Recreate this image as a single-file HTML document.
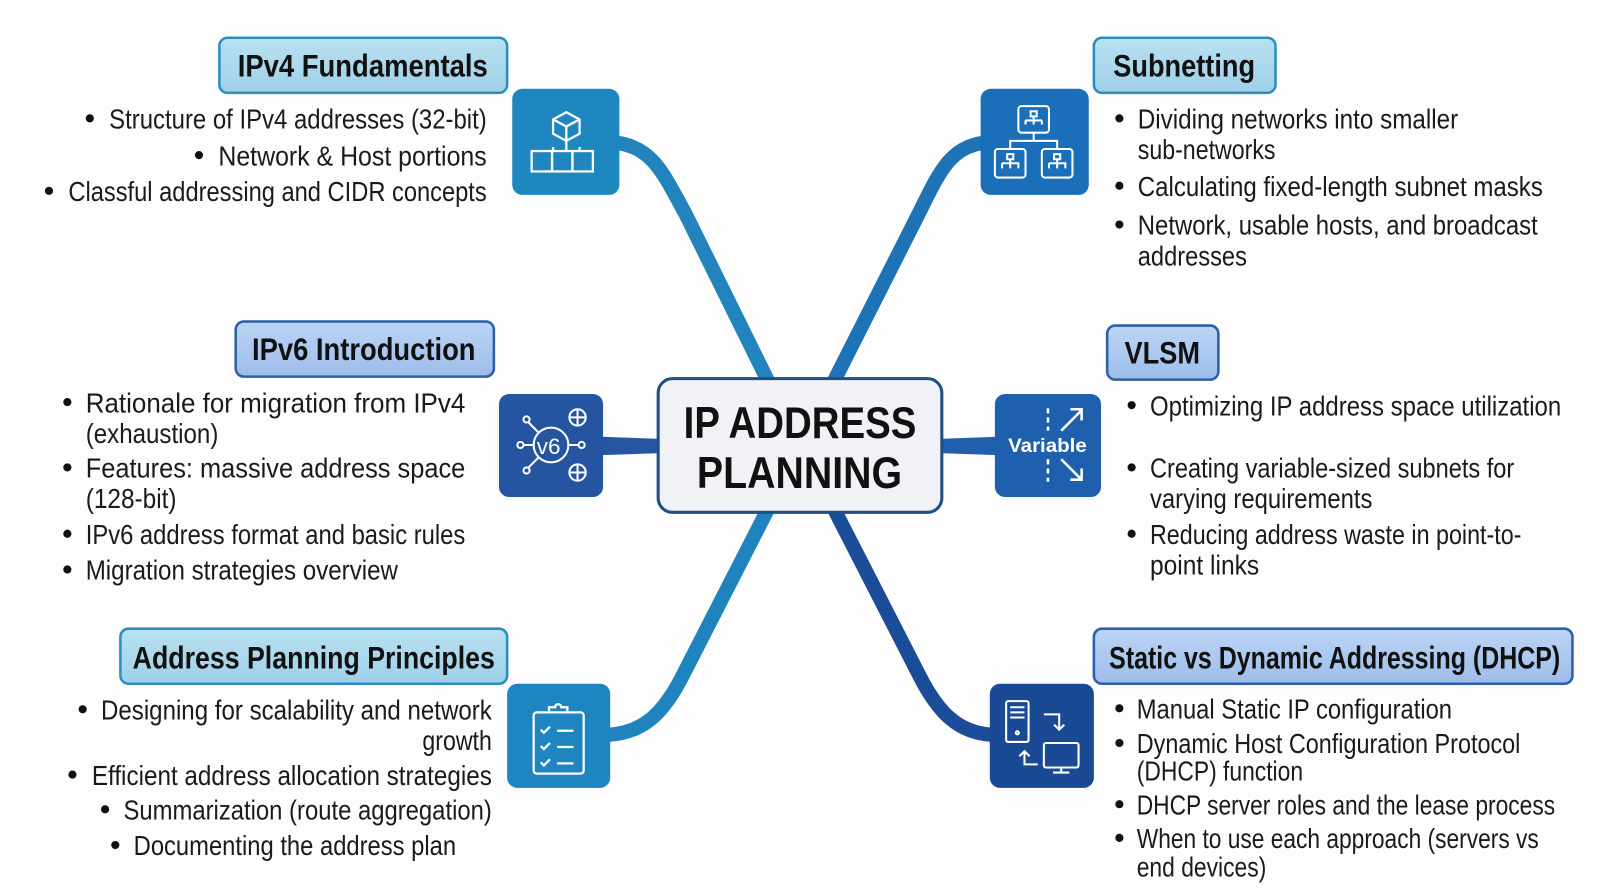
<!DOCTYPE html>
<html><head><meta charset="utf-8"><style>
html,body{margin:0;padding:0;background:#fff;}
svg{display:block;}
text{font-family:"Liberation Sans",sans-serif;}
.b{font-size:27px;fill:#1a1a1a;}
.h{font-size:31px;font-weight:bold;fill:#111;}
</style></head><body>
<svg width="1600" height="893" viewBox="0 0 1568 875" preserveAspectRatio="none" xmlns="http://www.w3.org/2000/svg">
<defs>
<linearGradient id="gc" x1="0" y1="0" x2="0" y2="1"><stop offset="0" stop-color="#b9e1f1"/><stop offset="1" stop-color="#9fd0e8"/></linearGradient>
<linearGradient id="gb" x1="0" y1="0" x2="0" y2="1"><stop offset="0" stop-color="#bcd5f5"/><stop offset="1" stop-color="#9dbdea"/></linearGradient>
</defs>
<rect width="1568" height="875" fill="#fdfdfd"/>
<g fill="none" stroke-linecap="round">
<path d="M605 140 C640 145 650 170 672 210 L752 372" stroke="#2283bd" stroke-width="14"/>
<path d="M963 140 C930 145 920 170 900 210 L818 372" stroke="#1e72b6" stroke-width="14"/>
<path d="M752 500 L670 660 C650 700 630 718 596 720" stroke="#1f83bd" stroke-width="14"/>
<path d="M818 500 L900 660 C920 700 940 718 972 720" stroke="#1b4c98" stroke-width="14"/>
</g>
<polygon points="590,428 648,430 648,444 590,446" fill="#2556a0"/>
<polygon points="920,430 978,428 978,446 920,444" fill="#1f5fae"/>
<rect x="645" y="371" width="278" height="131" rx="14" fill="#f0f2f5" stroke="#1f4f80" stroke-width="3"/>
<text x="670" y="429" font-size="44" font-weight="bold" fill="#111" textLength="228" lengthAdjust="spacingAndGlyphs">IP ADDRESS</text>
<text x="683" y="478" font-size="44" font-weight="bold" fill="#111" textLength="201" lengthAdjust="spacingAndGlyphs">PLANNING</text>
<rect x="215" y="37" width="282" height="54" rx="8" fill="url(#gc)" stroke="#2a8fc0" stroke-width="2.5"/>
<text class="h" x="233" y="75" textLength="245" lengthAdjust="spacingAndGlyphs">IPv4 Fundamentals</text>
<rect x="1072" y="37" width="178" height="54" rx="8" fill="url(#gc)" stroke="#2a8fc0" stroke-width="2.5"/>
<text class="h" x="1091" y="75" textLength="139" lengthAdjust="spacingAndGlyphs">Subnetting</text>
<rect x="231" y="315" width="253" height="54" rx="8" fill="url(#gb)" stroke="#2e5fa8" stroke-width="2.5"/>
<text class="h" x="247" y="353" textLength="219" lengthAdjust="spacingAndGlyphs">IPv6 Introduction</text>
<rect x="1085" y="319" width="109" height="53" rx="8" fill="url(#gb)" stroke="#2e5fa8" stroke-width="2.5"/>
<text class="h" x="1102" y="356" textLength="74" lengthAdjust="spacingAndGlyphs">VLSM</text>
<rect x="118" y="616" width="379" height="54" rx="8" fill="url(#gc)" stroke="#2a8fc0" stroke-width="2.5"/>
<text class="h" x="130" y="655" textLength="355" lengthAdjust="spacingAndGlyphs">Address Planning Principles</text>
<rect x="1072" y="616" width="469" height="54" rx="8" fill="url(#gb)" stroke="#2e5fa8" stroke-width="2.5"/>
<text class="h" x="1087" y="655" textLength="442" lengthAdjust="spacingAndGlyphs">Static vs Dynamic Addressing (DHCP)</text>
<rect x="502" y="87" width="105" height="104" rx="10" fill="#1f87c0"/>
<g stroke="#fff" stroke-width="2.2" fill="none">
<path d="M555 110 l13 7 v14 l-13 7 l-13 -7 v-14 z M542 117 l13 7 l13 -7 M555 124 v14"/>
<path d="M555 138 v10 M542 148 v-4 M568 148 v-4"/>
<rect x="521" y="148" width="20" height="20"/><rect x="541" y="148" width="20" height="20"/><rect x="561" y="148" width="20" height="20"/>
</g>
<rect x="961" y="87" width="106" height="104" rx="10" fill="#1a6fb8"/>
<g stroke="#fff" stroke-width="2" fill="none">
<rect x="998" y="104" width="30" height="26" rx="3"/><rect x="975" y="146" width="30" height="28" rx="3"/><rect x="1021" y="146" width="30" height="28" rx="3"/>
<path d="M1013 130 v8 M990 146 v-8 h46 v8"/>
<path d="M1010 109 h6 v5 h-6z M1013 114 v4 M1005 118 h16 M1005 118 v4 M1013 118 v4 M1021 118 v4"/>
<path d="M987 151 h6 v5 h-6z M990 156 v4 M982 160 h16 v5 M990 160 v5 M982 160 v5"/>
<path d="M1033 151 h6 v5 h-6z M1036 156 v4 M1028 160 h16 v5 M1036 160 v5 M1028 160 v5"/>
</g>
<rect x="489" y="386" width="102" height="101" rx="10" fill="#2555a0"/>
<g stroke="#fff" stroke-width="2" fill="none">
<circle cx="540" cy="436" r="17"/>
<circle cx="566" cy="409" r="8"/><circle cx="566" cy="463" r="8"/>
<path d="M558 409 h16 M566 401 v16 M558 463 h16 M566 455 v16"/>
<path d="M523 436 h-10 M557 436 h10 M528 424 l-10 -10 M528 448 l-10 10"/>
<circle cx="510" cy="436" r="3"/><circle cx="570" cy="436" r="3"/><circle cx="516" cy="411" r="3"/><circle cx="516" cy="461" r="3"/>
</g>
<text x="526" y="445" font-size="22" fill="#fff">v6</text>
<rect x="975" y="386" width="104" height="101" rx="10" fill="#1e5fae"/>
<text x="988" y="443" font-size="19" font-weight="bold" fill="#fff" textLength="77" lengthAdjust="spacingAndGlyphs">Variable</text>
<g stroke="#fff" stroke-width="2.5" fill="none">
<path d="M1027 400 v22 M1027 450 v22" stroke-dasharray="5 4"/>
<path d="M1040 422 l20 -20 M1049 401 h11 v11 M1040 450 l20 20 M1060 459 v11 h-11"/>
</g>
<rect x="497" y="670" width="101" height="102" rx="10" fill="#1f85c0"/>
<g stroke="#fff" stroke-width="2.2" fill="none">
<rect x="523" y="698" width="49" height="60" rx="3"/>
<path d="M538 698 v-5 h6 a3 3 0 0 1 6 0 h6 v5"/>
<path d="M530 715 l3 3 l6 -6 M530 731 l3 3 l6 -6 M530 747 l3 3 l6 -6 M546 716 h16 M546 732 h16 M546 748 h16"/>
</g>
<rect x="970" y="670" width="102" height="102" rx="10" fill="#1b4a95"/>
<g stroke="#fff" stroke-width="2" fill="none">
<rect x="986" y="687" width="22" height="40" rx="2"/><path d="M990 693 h14 M990 698 h14 M990 703 h14"/><circle cx="997" cy="718" r="1.5"/>
<path d="M1023 700 h15 v15 M1033 710 l5 5 l5 -5"/>
<path d="M1017 749 h-13 v-13 M999 741 l5 -5 l5 5"/>
<rect x="1023" y="728" width="34" height="24" rx="2"/><path d="M1040 752 v5 M1032 757 h16"/>
</g>
<g fill="#111">
<circle cx="88" cy="116" r="4"/><circle cx="195" cy="152" r="4"/><circle cx="48" cy="187" r="4"/>
<circle cx="1097" cy="116" r="4"/><circle cx="1097" cy="182" r="4"/><circle cx="1097" cy="220" r="4"/>
<circle cx="66" cy="394" r="4"/><circle cx="66" cy="458" r="4"/><circle cx="66" cy="523" r="4"/><circle cx="66" cy="558" r="4"/>
<circle cx="1109" cy="397" r="4"/><circle cx="1109" cy="458" r="4"/><circle cx="1109" cy="523" r="4"/>
<circle cx="81" cy="695" r="4"/><circle cx="71" cy="759" r="4"/><circle cx="103" cy="793" r="4"/><circle cx="113" cy="828" r="4"/>
<circle cx="1097" cy="694" r="4"/><circle cx="1097" cy="728" r="4"/><circle cx="1097" cy="788" r="4"/><circle cx="1097" cy="821" r="4"/>
</g>
<g>
<text class="b" x="107" y="126" textLength="370" lengthAdjust="spacingAndGlyphs">Structure of IPv4 addresses (32-bit)</text>
<text class="b" x="214" y="162" textLength="263" lengthAdjust="spacingAndGlyphs">Network &amp; Host portions</text>
<text class="b" x="67" y="197" textLength="410" lengthAdjust="spacingAndGlyphs">Classful addressing and CIDR concepts</text>
<text class="b" x="1115" y="126" textLength="314" lengthAdjust="spacingAndGlyphs">Dividing networks into smaller</text>
<text class="b" x="1115" y="156" textLength="135" lengthAdjust="spacingAndGlyphs">sub-networks</text>
<text class="b" x="1115" y="192" textLength="397" lengthAdjust="spacingAndGlyphs">Calculating fixed-length subnet masks</text>
<text class="b" x="1115" y="230" textLength="392" lengthAdjust="spacingAndGlyphs">Network, usable hosts, and broadcast</text>
<text class="b" x="1115" y="260" textLength="107" lengthAdjust="spacingAndGlyphs">addresses</text>
<text class="b" x="84" y="404" textLength="372" lengthAdjust="spacingAndGlyphs">Rationale for migration from IPv4</text>
<text class="b" x="84" y="434" textLength="130" lengthAdjust="spacingAndGlyphs">(exhaustion)</text>
<text class="b" x="84" y="468" textLength="372" lengthAdjust="spacingAndGlyphs">Features: massive address space</text>
<text class="b" x="84" y="498" textLength="89" lengthAdjust="spacingAndGlyphs">(128-bit)</text>
<text class="b" x="84" y="533" textLength="372" lengthAdjust="spacingAndGlyphs">IPv6 address format and basic rules</text>
<text class="b" x="84" y="568" textLength="306" lengthAdjust="spacingAndGlyphs">Migration strategies overview</text>
<text class="b" x="1127" y="407" textLength="403" lengthAdjust="spacingAndGlyphs">Optimizing IP address space utilization</text>
<text class="b" x="1127" y="468" textLength="357" lengthAdjust="spacingAndGlyphs">Creating variable-sized subnets for</text>
<text class="b" x="1127" y="498" textLength="218" lengthAdjust="spacingAndGlyphs">varying requirements</text>
<text class="b" x="1127" y="533" textLength="364" lengthAdjust="spacingAndGlyphs">Reducing address waste in point-to-</text>
<text class="b" x="1127" y="563" textLength="107" lengthAdjust="spacingAndGlyphs">point links</text>
<text class="b" x="99" y="705" textLength="383" lengthAdjust="spacingAndGlyphs">Designing for scalability and network</text>
<text class="b" x="414" y="735" textLength="68" lengthAdjust="spacingAndGlyphs">growth</text>
<text class="b" x="90" y="769" textLength="392" lengthAdjust="spacingAndGlyphs">Efficient address allocation strategies</text>
<text class="b" x="121" y="803" textLength="361" lengthAdjust="spacingAndGlyphs">Summarization (route aggregation)</text>
<text class="b" x="131" y="838" textLength="316" lengthAdjust="spacingAndGlyphs">Documenting the address plan</text>
<text class="b" x="1114" y="704" textLength="309" lengthAdjust="spacingAndGlyphs">Manual Static IP configuration</text>
<text class="b" x="1114" y="738" textLength="376" lengthAdjust="spacingAndGlyphs">Dynamic Host Configuration Protocol</text>
<text class="b" x="1114" y="765" textLength="163" lengthAdjust="spacingAndGlyphs">(DHCP) function</text>
<text class="b" x="1114" y="798" textLength="410" lengthAdjust="spacingAndGlyphs">DHCP server roles and the lease process</text>
<text class="b" x="1114" y="831" textLength="394" lengthAdjust="spacingAndGlyphs">When to use each approach (servers vs</text>
<text class="b" x="1114" y="859" textLength="127" lengthAdjust="spacingAndGlyphs">end devices)</text>
</g>
</svg>
</body></html>
